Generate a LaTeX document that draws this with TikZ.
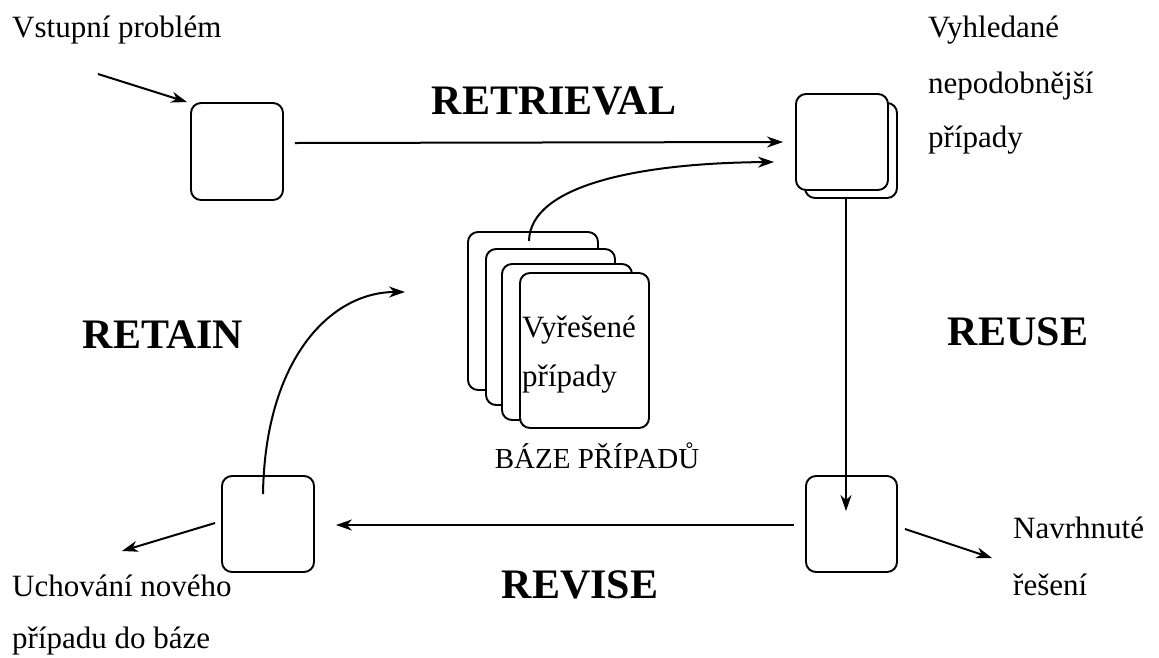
\documentclass[tikz,border=0pt]{standalone}
\usepackage{fontspec}
\setmainfont{Liberation Serif}
\usetikzlibrary{arrows.meta,calc}

\tikzset{
  box/.style={draw, fill=white, rounded corners=10pt, line width=1.9pt, inner sep=0pt},
  arr/.style={line width=2pt, -{Stealth[length=16pt,width=11pt,inset=5pt]}},
  txt/.style={inner sep=0pt, anchor=base west, font=\fontsize{31}{37}\selectfont},
  ctxt/.style={inner sep=0pt, anchor=base, font=\fontsize{29}{35}\selectfont},
  phase/.style={inner sep=0pt, anchor=base, font=\fontsize{42}{48}\selectfont\bfseries},
}

\begin{document}
\begin{tikzpicture}[x=1pt,y=-1pt]
\useasboundingbox (0,0) rectangle (1159,657);
\fill[white] (0,0) rectangle (1159,657);

% process boxes
\node[box, minimum width=92pt, minimum height=97pt] (inp) at (237,151.5) {};
\node[box, minimum width=92pt, minimum height=95pt] (retb) at (851,150.5) {};
\node[box, minimum width=92pt, minimum height=96pt] (ret) at (842,142) {};
\node[box, minimum width=91pt, minimum height=96pt] (prop) at (851.5,524) {};
\node[box, minimum width=92pt, minimum height=96pt] (keep) at (268,524) {};

% case base: stack of cards
\node[box, minimum width=130pt, minimum height=158pt] (sA) at (533,311) {};
\node[box, minimum width=129pt, minimum height=156pt] (sB) at (550.5,327) {};
\node[box, minimum width=130pt, minimum height=156pt] (sC) at (567,342) {};
\node[box, minimum width=129pt, minimum height=155pt] (sD) at (584.5,350.5) {};
\node[txt] (sol1) at (522,337) {Vyřešené};
\node[txt] (sol2) at (522,386) {případy};
\node[ctxt] (base) at (597,468) {BÁZE PŘÍPADŮ};

% free ends of connectors
\coordinate (inTail) at (98,74);
\coordinate (propOut) at (992,558);
\coordinate (keepOut) at (122,551);
\coordinate (retainTip) at (405,292);

% connectors
\draw[arr] (inTail) -- ($(inp.north west)+(-3,0)$);
\draw[arr] ($(inp.east)+(11,-8.5)$) -- ($(ret.west)+(-12,0)$);
\draw[arr] ($(sA.north)+(-4,10)$) .. controls (530,185) and (640,163) .. ($(ret.west)+(-21,20)$);
\draw[arr] ($(retb.south)+(-5,0)$) -- ($(prop.north)+(-5.5,36)$);
\draw[arr] ($(prop.east)+(7,5)$) -- (propOut);
\draw[arr] ($(prop.west)+(-11,1)$) -- ($(keep.east)+(21,1)$);
\draw[arr] ($(keep.west)+(-6,-1)$) -- (keepOut);
\draw[arr] ($(keep.north)+(-5,19)$) .. controls (265,360) and (330,292) .. (retainTip);

% labels
\node[txt] (lIn) at (12,37) {Vstupní problém};
\node[txt] (lRet1) at (928,37) {Vyhledané};
\node[txt] (lRet2) at (928,93) {nepodobnější};
\node[txt] (lRet3) at (928,147) {případy};
\node[txt] (lKeep1) at (12,596) {Uchování nového};
\node[txt] (lKeep2) at (12,648) {případu do báze};
\node[txt] (lProp1) at (1013,538) {Navrhnuté};
\node[txt] (lProp2) at (1013,595) {řešení};

% phase names
\node[phase] (pRetrieval) at (554,114) {RETRIEVAL};
\node[phase] (pRetain) at (163,348) {RETAIN};
\node[phase] (pReuse) at (1018,345) {REUSE};
\node[phase] (pRevise) at (580,598) {REVISE};
\end{tikzpicture}
\end{document}
